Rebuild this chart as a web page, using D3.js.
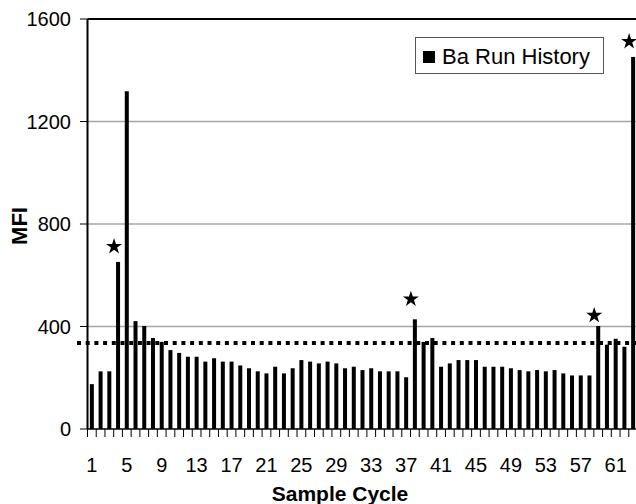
<!DOCTYPE html>
<html>
<head>
<meta charset="utf-8">
<script src="https://cdnjs.cloudflare.com/ajax/libs/d3/7.8.5/d3.min.js"></script>
<style>
  body { margin: 0; background: #fff; }
  svg { display: block; font-family: "Liberation Sans", Arial, sans-serif; }
</style>
</head>
<body>
<svg width="636" height="504"></svg>
<script>
// sample cycles 1..63 and MFI per cycle
var cycles = d3.range(1, 64)
var mfi = [175, 225, 225, 652, 1318, 421, 402, 355, 340, 308,
           297, 282, 282, 263, 276, 263, 263, 248, 237, 225,
           217, 243, 217, 237, 269, 263, 256, 263, 256, 237,
           243, 230, 237, 225, 225, 225, 202, 428, 340, 355,
           243, 256, 269, 269, 269, 243, 243, 243, 237, 230,
           225, 230, 225, 230, 217, 209, 209, 209, 402, 329,
           352, 321, 1452]
var xLabels = [1, 5, 9, 13, 17, 21, 25, 29, 33, 37, 41, 45, 49, 53, 57, 61]
var yTicks = [0, 400, 800, 1200, 1600]
var gridValues = [400, 800, 1200]
var cutoff = 336
var starCycles = [4, 38, 59, 63]
var starValues = [712, 507, 443, 1512]

var svg = d3.select("svg")

var x = d3.scaleBand().domain(cycles).range([87.5, 637.5])
var y = d3.scaleLinear().domain([0, 1600]).range([429, 19])
var bw = x.bandwidth()

// gridlines
svg.append("g").selectAll("line")
    .data(gridValues)
    .enter().append("line")
    .attr("x1", 87.5).attr("x2", 636)
    .attr("y1", function (d) { return y(d) }).attr("y2", function (d) { return y(d) })
    .attr("stroke", "#a6a6a6").attr("stroke-width", 1.5)

// top border
svg.append("line")
    .attr("x1", 87.5).attr("x2", 636)
    .attr("y1", y(1600)).attr("y2", y(1600))
    .attr("stroke", "#000").attr("stroke-width", 2)

// bars
svg.append("g").selectAll("rect")
    .data(cycles)
    .enter().append("rect")
    .attr("x", function (d) { return x(d) + bw / 2 - 2 })
    .attr("width", 4)
    .attr("y", function (d, i) { return y(mfi[i]) })
    .attr("height", function (d, i) { return y(0) - y(mfi[i]) })
    .attr("fill", "#000")

// cutoff line
svg.append("line")
    .attr("x1", 77).attr("x2", 636)
    .attr("y1", y(cutoff)).attr("y2", y(cutoff))
    .attr("stroke", "#000").attr("stroke-width", 4)
    .attr("stroke-dasharray", "4,4.7")

// x axis
var xg = svg.append("g")
xg.append("line")
    .attr("x1", 87.5).attr("x2", 636)
    .attr("y1", y(0)).attr("y2", y(0))
    .attr("stroke", "#000").attr("stroke-width", 1.5)
xg.selectAll("line.tick")
    .data(cycles)
    .enter().append("line")
    .attr("class", "tick")
    .attr("x1", function (d) { return x(d) }).attr("x2", function (d) { return x(d) })
    .attr("y1", y(0)).attr("y2", y(0) + 8)
    .attr("stroke", "#000").attr("stroke-width", 1)
xg.selectAll("text")
    .data(xLabels)
    .enter().append("text")
    .attr("x", function (d) { return x(d) + bw / 2 })
    .attr("y", 472)
    .attr("text-anchor", "middle")
    .attr("font-size", 20)
    .text(function (d) { return d })

// y axis
var yg = svg.append("g")
yg.append("line")
    .attr("x1", 87.5).attr("x2", 87.5)
    .attr("y1", y(0)).attr("y2", y(1600))
    .attr("stroke", "#000").attr("stroke-width", 2)
yg.selectAll("line.tick")
    .data(yTicks)
    .enter().append("line")
    .attr("class", "tick")
    .attr("x1", 80).attr("x2", 87.5)
    .attr("y1", function (d) { return y(d) }).attr("y2", function (d) { return y(d) })
    .attr("stroke", "#000").attr("stroke-width", 1)
yg.selectAll("text")
    .data(yTicks)
    .enter().append("text")
    .attr("x", 71)
    .attr("y", function (d) { return y(d) + 7 })
    .attr("text-anchor", "end")
    .attr("font-size", 20)
    .text(function (d) { return d })

// stars
svg.append("g").selectAll("path")
    .data(starCycles)
    .enter().append("path")
    .attr("d", d3.symbol().type(d3.symbolStar).size(80))
    .attr("transform", function (d, i) {
        return "translate(" + (x(d) + bw / 2 - 4) + "," + y(starValues[i]) + ")"
    })
    .attr("fill", "#000")

// legend
var lg = svg.append("g")
lg.append("rect")
    .attr("x", 415.5).attr("y", 37.5).attr("width", 188).attr("height", 36)
    .attr("fill", "#fff").attr("stroke", "#555").attr("stroke-width", 1)
lg.append("rect")
    .attr("x", 423).attr("y", 51).attr("width", 12).attr("height", 12)
    .attr("fill", "#000")
lg.append("text")
    .attr("x", 442).attr("y", 64)
    .attr("font-size", 22)
    .text("Ba Run History")

// axis titles
svg.append("text")
    .attr("transform", "translate(27,226) rotate(-90)")
    .attr("text-anchor", "middle")
    .attr("font-size", 22).attr("font-weight", "bold")
    .text("MFI")
svg.append("text")
    .attr("x", 340).attr("y", 501)
    .attr("text-anchor", "middle")
    .attr("font-size", 21).attr("font-weight", "bold")
    .text("Sample Cycle")
</script>
</body>
</html>
